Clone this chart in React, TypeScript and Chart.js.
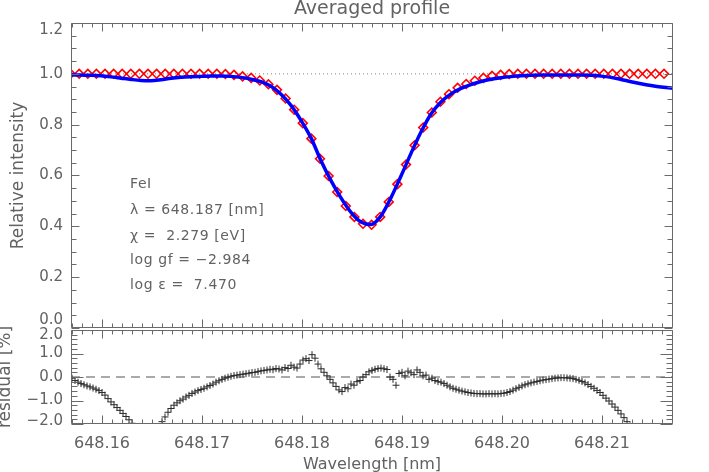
import React, { useEffect, useRef } from "react";
import { Chart, registerables } from "chart.js";

Chart.register(...registerables);

const FONT = "'DejaVu Sans', 'Liberation Sans', sans-serif";
const TEXT_COLOR = "#626262";
const AXIS_COLOR = "#6a6a6a";

const TITLE = "Averaged profile";
const X_TITLE = "Wavelength [nm]";
const Y_TITLE_PROFILE = "Relative intensity";
const Y_TITLE_RESIDUAL = "residual [%]";

const WAVE_MIN = 648.1569;
const WAVE_MAX = 648.2171;
const PROFILE_Y_MIN = 0;
const PROFILE_Y_MAX = 1.2;
const RESID_Y_MIN = -2;
const RESID_Y_MAX = 2;
const CONTINUUM_LEVEL = 1.0;
const RESIDUAL_ZERO = 0.0;

// observed profile (red diamonds)
const OBS_START = 648.15686;
const OBS_STEP = 0.00086;
const observedIntensity = [
  1.0, 1.0, 1.0, 1.0, 1.0, 1.0, 1.0, 1.0, 1.0, 1.0,
  1.0, 1.0, 1.0, 1.0, 1.0, 1.0, 1.0, 1.0, 0.999, 0.996,
  0.99, 0.984, 0.974, 0.959, 0.937, 0.903, 0.859, 0.806, 0.745, 0.666,
  0.598, 0.535, 0.48, 0.437, 0.41, 0.406, 0.437, 0.496, 0.566, 0.643,
  0.719, 0.789, 0.848, 0.89, 0.92, 0.945, 0.96, 0.973, 0.984, 0.992,
  0.996, 0.999, 1.0, 1.0, 1.0, 1.0, 1.0, 1.0, 1.0, 1.0,
  1.0, 1.0, 1.0, 1.0, 1.0, 1.0, 1.0, 1.0, 1.0, 1.0,
];

// synthetic fit (blue line)
const FIT_START = 648.1569;
const FIT_STEP = 0.001;
const fitIntensity = [
  0.996, 0.995, 0.994, 0.992, 0.988, 0.983, 0.978, 0.974, 0.973, 0.977,
  0.983, 0.987, 0.989, 0.990, 0.991, 0.991, 0.990, 0.986, 0.979, 0.969,
  0.951, 0.920, 0.876, 0.817, 0.748, 0.658, 0.580, 0.512, 0.455, 0.417,
  0.407, 0.441, 0.513, 0.598, 0.687, 0.771, 0.842, 0.889, 0.921, 0.943,
  0.958, 0.970, 0.979, 0.985, 0.989, 0.992, 0.994, 0.995, 0.995, 0.995,
  0.995, 0.995, 0.994, 0.991, 0.986, 0.978, 0.969, 0.961, 0.954, 0.948,
  0.944, 0.942,
];

// residual in percent (+ symbols)
const RES_START = 648.157;
const RES_STEP = 0.0003;
const residualPercent = [
  -0.05, -0.15, -0.22, -0.28, -0.33, -0.38, -0.42, -0.47, -0.52, -0.58,
  -0.66, -0.77, -0.92, -1.06, -1.18, -1.30, -1.42, -1.55, -1.68, -1.82,
  -1.97, -2.12, -2.30, -2.50, -2.70, -2.80, -2.80, -2.60, -2.40, -2.15,
  -1.90, -1.70, -1.50, -1.34, -1.20, -1.10, -1.01, -0.94, -0.85, -0.78,
  -0.70, -0.64, -0.58, -0.53, -0.48, -0.42, -0.36, -0.30, -0.22, -0.16,
  -0.10, -0.05, -0.01, 0.03, 0.06, 0.08, 0.10, 0.12, 0.14, 0.16,
  0.19, 0.20, 0.23, 0.26, 0.28, 0.30, 0.33, 0.31, 0.36, 0.34,
  0.30, 0.40, 0.36, 0.50, 0.42, 0.38, 0.55, 0.72, 0.78, 0.70,
  0.95, 0.80, 0.55, 0.35, 0.20, 0.05, -0.10, -0.25, -0.40, -0.55,
  -0.62, -0.45, -0.50, -0.30, -0.35, -0.20, -0.15, 0.00, 0.10, 0.22,
  0.28, 0.33, 0.36, 0.38, 0.35, 0.32, 0.00, -0.10, -0.35, 0.15,
  0.20, 0.05, 0.25, 0.18, 0.10, 0.30, 0.20, 0.05, 0.08, -0.10,
  -0.05, -0.15, -0.20, -0.22, -0.28, -0.35, -0.42, -0.48, -0.52, -0.56,
  -0.60, -0.63, -0.66, -0.68, -0.70, -0.71, -0.71, -0.72, -0.72, -0.71,
  -0.72, -0.71, -0.72, -0.70, -0.69, -0.66, -0.62, -0.56, -0.50, -0.44,
  -0.38, -0.33, -0.29, -0.25, -0.22, -0.19, -0.16, -0.13, -0.11, -0.09,
  -0.07, -0.05, -0.04, -0.03, -0.03, -0.04, -0.05, -0.07, -0.10, -0.14,
  -0.19, -0.25, -0.32, -0.40, -0.48, -0.57, -0.66, -0.78, -0.90, -1.02,
  -1.15, -1.28, -1.42, -1.57, -1.73, -1.90, -2.08, -2.30,
];

const lineInfoLabels = [
  "FeI",
  "λ = 648.187 [nm]",
  "χ =  2.279 [eV]",
  "log gf = −2.984",
  "log ε =  7.470",
];
const LINE_INFO_X = 648.1628;
const lineInfoY = [0.551, 0.449, 0.348, 0.25, 0.152];

const toPoints = (start: number, step: number, ys: number[]) =>
  ys.map((y, i) => ({ x: start + i * step, y }));

const fmtSigned = (v: number, d: number) => {
  const s = Math.abs(v).toFixed(d);
  return v < -1e-9 ? "−" + s : s;
};

function framePlugin(cfg: any) {
  return {
    id: "frameTicks",
    afterDraw(chart: any) {
      const { ctx, chartArea: a, scales } = chart;
      const xs = scales.x;
      const ys = scales.y;
      ctx.save();
      ctx.strokeStyle = AXIS_COLOR;
      ctx.lineWidth = 1;
      ctx.beginPath();
      const L = Math.round(a.left) + 0.5;
      const R = Math.round(a.right) - 0.5;
      const T = Math.round(a.top) + 0.5;
      const B = Math.round(a.bottom) - 0.5;
      ctx.rect(L, T, R - L, B - T);
      const i0 = Math.ceil(xs.min / cfg.xMinor - 1e-6);
      const i1 = Math.floor(xs.max / cfg.xMinor + 1e-6);
      for (let i = i0; i <= i1; i++) {
        const px = Math.round(xs.getPixelForValue(i * cfg.xMinor)) + 0.5;
        const len = i % cfg.xEvery === 0 ? cfg.xMajLen : cfg.xMinLen;
        ctx.moveTo(px, B);
        ctx.lineTo(px, B - len);
        ctx.moveTo(px, T);
        ctx.lineTo(px, T + len);
      }
      const j0 = Math.ceil(ys.min / cfg.yMinor - 1e-6);
      const j1 = Math.floor(ys.max / cfg.yMinor + 1e-6);
      for (let j = j0; j <= j1; j++) {
        const py = Math.round(ys.getPixelForValue(j * cfg.yMinor)) + 0.5;
        const len = j % cfg.yEvery === 0 ? cfg.yMajLen : cfg.yMinLen;
        ctx.moveTo(L, py);
        ctx.lineTo(L + len, py);
        ctx.moveTo(R, py);
        ctx.lineTo(R - len, py);
      }
      ctx.stroke();
      // edge tick labels (shifted inward like the original plot)
      ctx.fillStyle = TEXT_COLOR;
      ctx.font = `15px ${FONT}`;
      ctx.textAlign = "right";
      ctx.textBaseline = "middle";
      for (const e of cfg.edgeLabels) {
        ctx.fillText(e.text, a.left - 8, ys.getPixelForValue(e.value) + e.dy);
      }
      ctx.restore();
    },
  };
}

const profileTextPlugin = {
  id: "profileText",
  afterDraw(chart: any) {
    const { ctx, chartArea: a, scales } = chart;
    ctx.save();
    ctx.fillStyle = TEXT_COLOR;
    ctx.textBaseline = "alphabetic";
    ctx.textAlign = "center";
    ctx.font = `19px ${FONT}`;
    ctx.fillText(TITLE, (a.left + a.right) / 2, a.top - 9);
    ctx.textAlign = "left";
    ctx.font = `14px ${FONT}`;
    try {
      (ctx as any).letterSpacing = "0.6px";
    } catch (e) {}
    const x = scales.x.getPixelForValue(LINE_INFO_X);
    lineInfoLabels.forEach((t, i) => {
      ctx.fillText(t, x, scales.y.getPixelForValue(lineInfoY[i]));
    });
    ctx.restore();
  },
};

export default function App() {
  const topRef = useRef<HTMLCanvasElement>(null);
  const botRef = useRef<HTMLCanvasElement>(null);

  useEffect(() => {
    const tickFont = { family: FONT, size: 15 };
    const profile = new Chart(topRef.current as HTMLCanvasElement, {
      type: "scatter",
      data: {
        datasets: [
          {
            label: "fit",
            data: toPoints(FIT_START, FIT_STEP, fitIntensity),
            showLine: true,
            borderColor: "#0000ff",
            borderWidth: 3.5,
            pointRadius: 0,
            cubicInterpolationMode: "monotone",
            order: 0,
            clip: 0,
          },
          {
            label: "observed",
            data: toPoints(OBS_START, OBS_STEP, observedIntensity),
            showLine: false,
            pointStyle: "rectRot",
            pointRadius: 4.4,
            pointBorderColor: "#ff0000",
            pointBackgroundColor: "rgba(0,0,0,0)",
            pointBorderWidth: 1.6,
            borderColor: "#ff0000",
            backgroundColor: "rgba(0,0,0,0)",
            order: 1,
            clip: 0,
          },
          {
            label: "continuum",
            data: [
              { x: WAVE_MIN, y: CONTINUUM_LEVEL },
              { x: WAVE_MAX, y: CONTINUUM_LEVEL },
            ],
            showLine: true,
            borderColor: "#808080",
            borderWidth: 1,
            borderDash: [1, 3],
            pointRadius: 0,
            order: 2,
          },
        ],
      } as any,
      options: {
        responsive: false,
        animation: false,
        devicePixelRatio: 1,
        events: [],
        layout: { padding: { top: 23, right: 36, bottom: 15, left: 0 } },
        plugins: {
          legend: { display: false },
          tooltip: { enabled: false },
          title: { display: false },
        },
        scales: {
          x: { type: "linear", display: false, min: WAVE_MIN, max: WAVE_MAX },
          y: {
            type: "linear",
            min: PROFILE_Y_MIN,
            max: PROFILE_Y_MAX,
            grid: { display: false, drawTicks: false },
            border: { display: false },
            ticks: {
              stepSize: 0.2,
              padding: 8,
              color: TEXT_COLOR,
              font: tickFont,
              callback: (v: any) =>
                Math.abs(v - PROFILE_Y_MIN) < 1e-6 || Math.abs(v - PROFILE_Y_MAX) < 1e-6
                  ? ""
                  : Number(v).toFixed(1),
            },
            title: {
              display: true,
              text: Y_TITLE_PROFILE,
              color: TEXT_COLOR,
              font: { family: FONT, size: 17 },
              padding: { top: 8.8, bottom: 0 },
            },
            afterFit: (s: any) => {
              s.width = 71;
            },
          },
        },
      } as any,
      plugins: [
        framePlugin({
          xMinor: 0.001, xEvery: 10, xMajLen: 8, xMinLen: 4,
          yMinor: 0.05, yEvery: 4, yMajLen: 8, yMinLen: 5,
          edgeLabels: [
            { value: PROFILE_Y_MAX, text: PROFILE_Y_MAX.toFixed(1), dy: 7 },
            { value: PROFILE_Y_MIN, text: PROFILE_Y_MIN.toFixed(1), dy: -8 },
          ],
        }),
        profileTextPlugin,
      ] as any,
    });

    const residual = new Chart(botRef.current as HTMLCanvasElement, {
      type: "scatter",
      data: {
        datasets: [
          {
            label: "residual",
            data: toPoints(RES_START, RES_STEP, residualPercent),
            showLine: false,
            pointStyle: "cross",
            pointRadius: 3.5,
            pointBorderColor: "#2a2a2a",
            pointBorderWidth: 1,
            borderColor: "#2a2a2a",
            order: 0,
            clip: 0,
          },
          {
            label: "zero",
            data: [
              { x: WAVE_MIN, y: RESIDUAL_ZERO },
              { x: WAVE_MAX, y: RESIDUAL_ZERO },
            ],
            showLine: true,
            borderColor: "#555555",
            borderWidth: 1,
            borderDash: [9, 6],
            pointRadius: 0,
            order: 1,
          },
        ],
      } as any,
      options: {
        responsive: false,
        animation: false,
        devicePixelRatio: 1,
        events: [],
        layout: { padding: { top: 30, right: 36, bottom: 0, left: 0 } },
        plugins: {
          legend: { display: false },
          tooltip: { enabled: false },
          title: { display: false },
        },
        scales: {
          x: {
            type: "linear",
            min: WAVE_MIN,
            max: WAVE_MAX,
            grid: { display: false, drawTicks: false },
            border: { display: false },
            ticks: {
              stepSize: 0.01,
              includeBounds: false,
              autoSkip: false,
              maxRotation: 0,
              padding: 10.5,
              color: TEXT_COLOR,
              font: { family: FONT, size: 16 },
              callback: (v: any) => Number(v).toFixed(2),
            },
            title: {
              display: true,
              text: X_TITLE,
              color: TEXT_COLOR,
              font: { family: FONT, size: 16 },
              padding: { top: 0, bottom: 5.4 },
            },
            afterFit: (s: any) => {
              s.height = 56;
            },
          },
          y: {
            type: "linear",
            min: RESID_Y_MIN,
            max: RESID_Y_MAX,
            grid: { display: false, drawTicks: false },
            border: { display: false },
            ticks: {
              stepSize: 1,
              padding: 8,
              color: TEXT_COLOR,
              font: tickFont,
              callback: (v: any) =>
                Math.abs(v - RESID_Y_MIN) < 1e-6 || Math.abs(v - RESID_Y_MAX) < 1e-6
                  ? ""
                  : fmtSigned(Number(v), 1),
            },
            title: {
              display: true,
              text: Y_TITLE_RESIDUAL,
              color: TEXT_COLOR,
              font: { family: FONT, size: 17 },
              padding: { top: -4.2, bottom: 0 },
            },
            afterFit: (s: any) => {
              s.width = 71;
            },
          },
        },
      } as any,
      plugins: [
        framePlugin({
          xMinor: 0.001, xEvery: 10, xMajLen: 8, xMinLen: 4,
          yMinor: 0.2, yEvery: 5, yMajLen: 12, yMinLen: 6,
          edgeLabels: [
            { value: RESID_Y_MAX, text: fmtSigned(RESID_Y_MAX, 1), dy: 5 },
            { value: RESID_Y_MIN, text: fmtSigned(RESID_Y_MIN, 1), dy: -3 },
          ],
        }),
      ] as any,
    });

    return () => {
      profile.destroy();
      residual.destroy();
    };
  }, []);

  return (
    <div
      style={{
        position: "fixed",
        left: 0,
        top: 0,
        width: 709,
        height: 472,
        overflow: "hidden",
        background: "#ffffff",
      }}
    >
      <canvas
        ref={topRef}
        width={709}
        height={345}
        style={{ position: "absolute", left: 0, top: 0 }}
      />
      <canvas
        ref={botRef}
        width={709}
        height={180}
        style={{ position: "absolute", left: 0, top: 300 }}
      />
    </div>
  );
}
